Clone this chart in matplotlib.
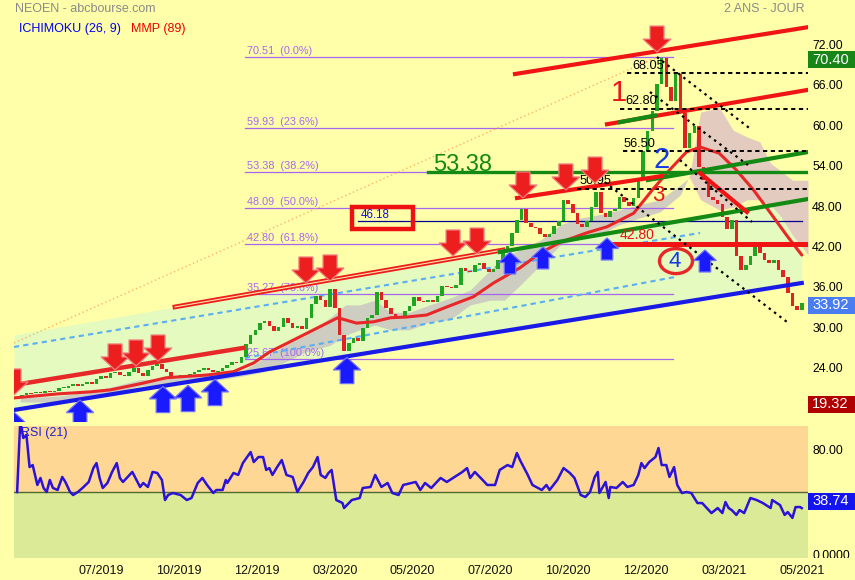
import numpy as np
import matplotlib
matplotlib.use('Agg')
import matplotlib.pyplot as plt
from matplotlib.patches import Polygon, Rectangle, Ellipse
from matplotlib.transforms import Bbox, TransformedBbox, ScaledTranslation

plt.rcParams['font.family'] = ['Liberation Sans', 'DejaVu Sans']

# ---------------- data ----------------
# closing prices, one bar every 3 trading days (trading-day index = 3*i + 2)
close = [20.1, 20.4, 20.7, 20.6, 20.8, 20.7, 20.9, 20.8, 21.0, 21.4,
         21.4, 21.7, 21.9, 21.7, 22.0, 22.3, 22.0, 22.7, 23.2, 22.8,
         23.6, 23.8, 23.3, 23.1, 23.7, 24.4, 23.6, 23.2, 24.0, 24.6,
         25.0, 24.2, 23.7, 23.2, 23.0, 23.3, 23.1, 23.4, 23.7, 24.0,
         24.4, 24.0, 23.7, 23.9, 24.4, 24.8, 25.2, 25.1, 26.0, 27.9,
         29.2, 30.0, 31.0, 31.3, 30.6, 29.9, 30.4, 31.8, 31.0, 30.3,
         30.6, 30.1, 31.7, 33.9, 35.0, 34.4, 33.4, 36.0, 33.2, 29.2,
         26.8, 28.0, 28.8, 28.3, 30.2, 31.8, 32.2, 35.6, 34.4, 33.2,
         32.3, 31.7, 32.1, 32.8, 33.5, 34.9, 34.3, 34.2, 34.4, 34.1,
         35.0, 36.5, 36.3, 36.2, 36.6, 39.2, 38.8, 38.6, 39.6, 39.9,
         39.0, 38.6, 39.0, 40.4, 41.9, 42.4, 44.4, 46.3, 47.9, 45.9,
         45.2, 45.1, 44.2, 43.8, 44.2, 45.4, 46.2, 49.2, 48.7, 47.4,
         45.7, 45.2, 46.2, 48.2, 50.4, 47.4, 46.7, 47.6, 47.9, 49.7,
         49.0, 48.4, 49.5, 52.5, 56.5, 59.5, 62.5, 66.5, 70.3, 66.0,
         64.0, 67.9, 62.2, 57.0, 59.2, 60.3, 54.2, 52.2, 49.7, 49.2,
         48.6, 46.8, 45.0, 46.3, 41.0, 38.9, 39.6, 41.0, 43.0, 41.4,
         40.4, 39.9, 40.4, 38.9, 37.8, 35.4, 33.6, 33.0, 33.92]
first_open = 19.8

# MMP (89)
ma_day = [0, 28, 49, 62, 81, 98, 124, 141, 154, 164, 177, 195, 208, 220, 231, 242, 252, 265,
          278, 295, 308, 325, 338, 351, 368, 381, 398, 410, 421, 432, 441, 453, 464, 475,
          486, 497, 506]
ma_val = [19.9, 20.5, 20.8, 21.1, 22.0, 22.9, 23.3, 23.8, 25.1, 26.7, 28.2, 30.3, 31.8, 31.0,
          31.2, 31.8, 31.9, 32.2, 33.4, 34.9, 36.95, 39.2, 41.4, 43.0, 44.4, 45.3, 47.3, 50.75,
          53.7, 56.4, 57.1, 56.2, 53.7, 50.75, 47.3, 43.8, 41.1]

# Ichimoku cloud (senkou span A / B)
cloud_day = [4, 30, 55, 81, 107, 132, 148, 161, 174, 187, 203, 213, 222, 232, 242, 254, 267,
             280, 293, 306, 315, 325, 338, 351, 364, 376, 389, 402, 415, 428, 434, 441, 453,
             462, 471, 479, 486, 492, 500, 510]
span_a = [19.9, 20.2, 21.1, 22.6, 22.9, 23.8, 24.1, 25.8, 27.7, 29.2, 31.8, 33.7, 33.7, 34.4,
          32.6, 32.6, 33.7, 34.7, 35.9, 38.9, 40.7, 41.9, 43.3, 45.6, 46.6, 47.1, 47.8, 48.6,
          49.3, 51.5, 52.6, 49.3, 47.8, 48.2, 49.3, 49.3, 48.5, 47.0, 44.1, 41.1]
span_b = [19.3, 19.3, 20.2, 21.7, 22.0, 22.6, 23.2, 23.8, 25.2, 26.7, 27.7, 29.2, 30.0, 30.7,
          30.0, 30.0, 31.2, 31.5, 33.7, 34.4, 34.4, 36.6, 39.6, 42.6, 43.6, 44.1, 45.6, 46.6,
          47.5, 50.0, 52.9, 62.3, 63.0, 59.6, 58.6, 57.9, 54.7, 53.7, 52.2, 52.2]

# RSI (21)
rsi_day = [2, 4, 6, 8, 10, 12, 15, 17, 19, 21, 23, 25, 28, 31, 33, 36, 38, 41, 44, 48, 51, 53,
           55, 57, 60, 63, 66, 68, 70, 73, 76, 78, 81, 83, 86, 89, 92, 95, 97, 99, 102, 107,
           111, 114, 118, 121, 124, 128, 130, 134, 136, 137, 141, 144, 147, 152, 154, 157,
           160, 162, 164, 166, 169, 172, 175, 179, 182, 186, 189, 192, 195, 197, 200, 202,
           204, 207, 211, 212, 217, 222, 224, 229, 232, 236, 240, 243, 247, 250, 258, 261,
           264, 268, 274, 278, 282, 288, 291, 293, 296, 301, 304, 309, 312, 317, 320, 323,
           325, 330, 333, 339, 342, 344, 349, 353, 357, 360, 364, 367, 370, 373, 375, 376,
           380, 382, 383, 387, 391, 394, 398, 401, 403, 405, 408, 412, 414, 416, 419, 421,
           424, 426, 429, 432, 435, 439, 442, 445, 448, 452, 455, 457, 459, 461, 464, 466,
           469, 473, 477, 481, 486, 487, 492, 495, 497, 500, 502, 505, 506]
rsi_val = [50.0, 99.0, 87.7, 89.8, 67.4, 68.8, 54.9, 59.8, 52.8, 50.0, 58.4, 52.8, 51.4, 60.5,
           57.0, 50.0, 47.9, 50.0, 52.8, 57.0, 66.7, 70.2, 59.8, 52.8, 56.3, 64.0, 70.2, 59.8,
           57.0, 60.5, 64.0, 59.8, 53.5, 56.3, 53.5, 64.0, 63.3, 58.4, 44.4, 47.9, 49.3, 47.9,
           44.4, 45.8, 56.3, 59.8, 54.9, 49.3, 51.4, 51.4, 58.4, 56.3, 63.3, 61.9, 70.2, 77.9,
           70.9, 74.4, 74.4, 65.4, 66.7, 61.9, 67.4, 72.3, 61.9, 60.5, 50.0, 57.0, 63.3, 67.4,
           74.4, 61.9, 59.8, 63.3, 65.4, 44.4, 42.3, 38.8, 44.4, 45.8, 52.8, 53.5, 61.9, 53.5,
           56.3, 49.3, 47.9, 54.9, 57.0, 51.4, 56.3, 52.8, 59.8, 57.0, 59.8, 64.0, 66.7, 59.8,
           64.0, 58.4, 54.9, 54.9, 65.4, 68.8, 67.4, 77.2, 72.3, 61.9, 54.9, 51.4, 54.9, 51.4,
           58.4, 66.7, 63.3, 59.8, 47.9, 46.5, 50.0, 60.5, 64.0, 49.3, 57.0, 45.8, 53.5, 52.8,
           57.0, 53.5, 54.9, 61.9, 70.2, 66.7, 70.9, 74.4, 80.7, 68.8, 68.8, 60.5, 67.4, 54.9,
           49.3, 50.0, 49.3, 42.3, 42.3, 38.8, 35.3, 38.8, 35.3, 43.0, 38.8, 37.4, 34.0, 37.4,
           35.3, 45.8, 44.4, 42.3, 38.8, 44.4, 40.9, 34.0, 36.0, 31.9, 39.5, 39.5, 38.74]

tick_days = [56, 106, 156, 206, 256, 306, 356, 406, 456, 506]
tick_labels = ['07/2019', '10/2019', '12/2019', '03/2020', '05/2020', '07/2020',
               '10/2020', '12/2020', '03/2021', '05/2021']

fib_levels = [70.51, 59.93, 53.38, 48.09, 42.80, 35.27, 25.67]
fib_labels = ['70.51  (0.0%)', '59.93  (23.6%)', '53.38  (38.2%)', '48.09  (50.0%)',
              '42.80  (61.8%)', '35.27  (78.6%)', '25.67  (100.0%)']

red_arrows = [(0, 20.34), (64.9, 24.05), (78.4, 24.64), (92.5, 25.38), (187.5, 36.95),
              (203.0, 37.25), (282.0, 40.96), (297.4, 41.25), (326.9, 49.56), (354.5, 50.75),
              (373.2, 51.78), (413.0, 71.21)]
blue_arrows = [(0, 17.81), (42.4, 19.59), (95.7, 21.62), (111.8, 21.77), (129.1, 22.66),
               (213.9, 25.92), (318.6, 41.55), (339.8, 42.30), (380.9, 43.63), (443.8, 41.85)]

# ---------------- figure ----------------
W, H = 855, 580
BG = '#FFFFAA'
fig = plt.figure(figsize=(W / 100, H / 100), dpi=100)
fig.patch.set_facecolor(BG)


def fx(x):
    return x / W


def fy(y):
    return 1 - y / H


ax = fig.add_axes([fx(14), fy(422), (808 - 14) / W, 422 / H])
rx = fig.add_axes([fx(14), fy(558), (808 - 14) / W, (558 - 426) / H])
XMIN, XMAX = 0, 510
YMIN, YMAX = 16.33, 78.93
for a in (ax, rx):
    a.set_facecolor(BG)
    for s in a.spines.values():
        s.set_visible(False)
    a.set_xlim(XMIN, XMAX)
ax.set_ylim(YMIN, YMAX)
KX = 794 / (XMAX - XMIN)
KY = 422 / (YMAX - YMIN)

# green channel fill (between blue support and upper channel line)
ch_t = np.array([0, 506])
ch_top = np.array([29.24, 49.56])
ch_bot = np.array([18.11, 36.95])
ax.fill_between(ch_t, ch_bot, ch_top, color='#E4FABE', lw=0, zorder=1)

# ichimoku cloud
cd = np.array(cloud_day, float)
sa = np.array(span_a)
sb = np.array(span_b)
ax.fill_between(cd, sa, sb, where=sa >= sb, interpolate=True, color='#C9C6C3', alpha=0.85,
                lw=0, zorder=2)
ax.fill_between(cd, sa, sb, where=sa < sb, interpolate=True, color='#E2C6C2', alpha=0.9,
                lw=0, zorder=2)

# fibonacci levels
for lv, lb in zip(fib_levels, fib_labels):
    ax.plot([148.4, 423.3], [lv, lv], color='#A866F0', lw=0.9, zorder=3)
    ax.text(149.5, lv + 0.15, lb, color='#A866F0', fontsize=7.8, va='bottom', ha='left',
            zorder=3)

# dashed light blue lines
ax.plot([0, 440.6], [27.46, 44.37], color='#5AAEF5', lw=1.5, ls=(0, (2.5, 2)), zorder=3)
ax.plot([148.4, 424.5], [25.83, 37.84], color='#5AAEF5', lw=1.5, ls=(0, (2.5, 2)), zorder=3)
# orange dotted
ax.plot([0, 411.7], [28.05, 70.32], color='#FFB060', lw=1.0, ls=(0, (1, 2)), zorder=3)
# navy 46.18 line
ax.plot([221, 506], [46.18, 46.18], color='#000090', lw=0.9, zorder=3)

# candles
cl = np.array(close)
op = np.concatenate([[first_open], cl[:-1]])
bar_day = np.arange(len(cl)) * 3 + 2
hgt = cl - op
hgt = np.where(np.abs(hgt) < 0.15, np.where(hgt >= 0, 0.15, -0.15), hgt)
cols = np.where(cl >= op, '#1FA51F', '#E02222')
ax.bar(bar_day, hgt, bottom=op, width=2.3, color=cols, lw=0, zorder=4)

# moving average
ax.plot(ma_day, ma_val, color='#E82828', lw=2.2, zorder=5, solid_capstyle='round')

# trend lines
ax.plot([0, 147.1], [21.82, 27.31], color='#E82828', lw=3.2, zorder=6)
ax.plot([103.4, 314.1], [33.4, 41.85], color='#EE1C1C', lw=3.4, zorder=6)
ax.plot([103.4, 314.1], [33.4, 41.85], color='#FFE6A6', lw=0.8, zorder=6)
ax.plot([0, 506], [18.11, 36.95], color='#1A1AE6', lw=3.0, zorder=6)
ax.plot([321.8, 510], [67.95, 74.9], color='#F01414', lw=3.0, zorder=6)
ax.plot([380.9, 510], [60.5, 65.6], color='#F01414', lw=3.0, zorder=6)
ax.plot([389.2, 411.7], [60.8, 61.8], color='#138A13', lw=3.0, zorder=6)
ax.plot([407.2, 510], [52.23, 56.38], color='#138A13', lw=3.0, zorder=6)
ax.plot([265.9, 510], [53.38, 53.38], color='#138A13', lw=2.4, zorder=6)
ax.plot([312.1, 510], [41.55, 49.41], color='#138A13', lw=3.0, zorder=6)
ax.plot([323.1, 416.2], [49.56, 52.82], color='#F01414', lw=3.0, zorder=6)
ax.plot([440.6, 470.8], [53.27, 47.48], color='#F01414', lw=3.0, zorder=6)
ax.plot([385.4, 510], [42.80, 42.80], color='#F01414', lw=3.6, zorder=6)

# black dashed horizontal levels
for lv, t0, tl in [(68.05, 393.7, 396.9), (62.80, 389.2, 392.4), (56.50, 391.1, 391.8),
                   (50.95, 361.6, 363.5)]:
    ax.plot([t0, 510], [lv, lv], color='black', lw=1.4, ls=(0, (2.2, 1.8)), zorder=6)
    ax.text(tl, lv + 0.25, f'{lv:.2f}', fontsize=9.2, color='black', va='bottom', zorder=7)

# black dotted diagonals
for (t0, p0, t1, p1) in [(413.0, 70.47, 474.0, 59.64), (408.5, 65.28, 471.4, 54.45),
                         (427.7, 55.19, 474.0, 46.0), (379.5, 51.9, 496.5, 31.17)]:
    ax.plot([t0, t1], [p0, p1], color='black', lw=1.6, ls=(0, (1.1, 1.9)), zorder=6)

# 46.18 box
ax.add_patch(Rectangle((217.1, 44.96), 39.2, 3.26, fill=False, ec='#EE1111', lw=3.2,
                       zorder=7))
ax.text(222.9, 47.1, '46.18', color='#1010CC', fontsize=8.3, va='center', zorder=7)


def arrow(t, p, up, scale, fc, ec):
    if up:
        pts = [(0, 0), (-13, -12), (-6.5, -12), (-6.5, -25), (6.5, -25), (6.5, -12), (13, -12)]
    else:
        pts = [(0, 0), (-14, 13), (-7, 13), (-7, 26), (7, 26), (7, 13), (14, 13)]
    xy = [(t + dx * scale / KX, p + dy * scale / KY) for dx, dy in pts]
    ax.add_patch(Polygon(xy, closed=True, fc=fc, ec=ec, lw=0.9, zorder=8))


for t, p in red_arrows:
    arrow(t, p, False, 1.0, '#EC1E1E', '#F28080')
for t, p in blue_arrows:
    arrow(t, p, True, 1.05 if t < 250 else 0.88, '#1A1AFF', '#7070FF')

# annotations
ax.text(269.1, 53.55, '53.38', color='#138A13', fontsize=17, va='baseline', zorder=8)
ax.text(388.6, 65.1, '1', color='#E81818', fontsize=21, ha='center', va='center', zorder=8)
ax.text(416.2, 55.2, '2', color='#1438E6', fontsize=21, ha='center', va='center', zorder=8)
ax.text(413.6, 50.0, '3', color='#E81818', fontsize=16, ha='center', va='center', zorder=8)
ax.text(424.5, 40.2, '4', color='#1438E6', fontsize=16, ha='center', va='center', zorder=8)
ax.add_patch(Ellipse((425.2, 40.2), 33 / KX, 25 / KY, fill=False, ec='#E82828', lw=2.4,
                     zorder=8))
ax.text(389.2, 43.05, '42.80', color='#EE1111', fontsize=10, va='bottom', zorder=8)

# main y ticks on right (18.00 is hidden under the 19.32 box in the reference)
ax.set_xticks([])
ax.yaxis.tick_right()
yt = [24, 30, 36, 42, 48, 54, 60, 66, 72]
ax.set_yticks(yt)
ax.set_yticklabels([f'{v:.2f}' for v in yt], fontsize=8.8, color='black')
ax.tick_params(axis='y', length=0, pad=3)
shift_up = ScaledTranslation(0, 2.5 / 100, fig.dpi_scale_trans)
for lab in ax.get_yticklabels():
    lab.set_transform(lab.get_transform() + shift_up)

# ---------------- RSI panel ----------------
rx.set_ylim(3.94, 96.06)
rx.axhspan(50, 100, color='#FFD794', lw=0, zorder=0)
rx.axhspan(0, 50, color='#DAEA97', lw=0, zorder=0)
rx.axhline(50, color='#4E6B2E', lw=1.0, zorder=1)
rx.plot(rsi_day, rsi_val, color='#2A12D6', lw=1.8, zorder=3)
rx.text(4.5, 91.5, 'RSI (21)', color='#2020D0', fontsize=9, va='center', zorder=2)
rx.yaxis.tick_right()
rx.set_yticks([80])
rx.set_yticklabels(['80.00'], fontsize=8.8)
rx.tick_params(axis='y', length=0, pad=3)
rx.set_xticks(tick_days)
rx.set_xticklabels(tick_labels, fontsize=9, color='#111111')
rx.tick_params(axis='x', length=0, pad=5)

z = fig.text(fx(812), fy(556), '0.0000', fontsize=8.8, va='center', ha='left')
z.set_clip_box(TransformedBbox(Bbox([[fx(808), fy(558)], [1, fy(426)]]), fig.transFigure))
z.set_clip_on(True)

# ---------------- header texts ----------------
fig.text(fx(15), fy(8.5), 'NEOEN - abcbourse.com', color='#8A8A8A', fontsize=9, va='center')
fig.text(fx(19), fy(29), 'ICHIMOKU (26, 9)', color='#0000EE', fontsize=9, va='center')
fig.text(fx(131), fy(29), 'MMP (89)', color='#EE0000', fontsize=9, va='center')
fig.text(fx(805), fy(8.5), '2 ANS - JOUR', color='#8A8A8A', fontsize=9, va='center',
         ha='right')

# ---------------- value boxes ----------------
for txt, yc, col in [('70.40', 59.5, '#178517'), ('33.92', 305, '#4A7DF2'),
                     ('19.32', 404, '#B00000'), ('38.74', 501, '#1414F0')]:
    fig.add_artist(Rectangle((fx(808), fy(yc + 8.5)), 47 / W, 17 / H, transform=fig.transFigure,
                             fc=col, ec='none', zorder=10))
    fig.text(fx(812), fy(yc), txt, color='white', fontsize=10.5, va='center', ha='left',
             zorder=11)

fig.savefig('out.png', dpi=100, facecolor=BG)
